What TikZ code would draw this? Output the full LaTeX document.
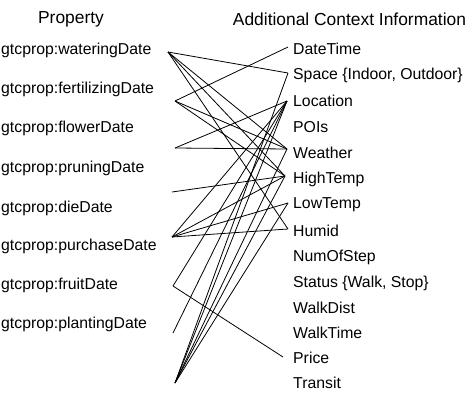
\documentclass[tikz,border=0pt]{standalone}
\usepackage{fontspec}
\setmainfont{Liberation Sans}
\begin{document}
\begin{tikzpicture}[x=1pt,y=-1pt,
  lbl/.style={font=\fontsize{15.8}{18}\selectfont, inner sep=0pt, anchor=west},
  hdr/.style={font=\fontsize{17.4}{20}\selectfont, inner sep=0pt},
  link/.style={line width=0.8pt}]
\useasboundingbox (0,0) rectangle (469,394);

% column headings
\node[hdr] (hprop) at (71,19) {Property};
\node[hdr] (hctx) at (349.5,19) {Additional Context Information};

% property labels
\node[lbl] (pw)  at (1,50)  {gtcprop:wateringDate};
\node[lbl] (pf)  at (1,89)  {gtcprop:fertilizingDate};
\node[lbl] (pfl) at (1,128) {gtcprop:flowerDate};
\node[lbl] (ppr) at (1,168) {gtcprop:pruningDate};
\node[lbl] (pd)  at (1,208) {gtcprop:dieDate};
\node[lbl] (ppu) at (1,246) {gtcprop:purchaseDate};
\node[lbl] (pfr) at (1,285) {gtcprop:fruitDate};
\node[lbl] (ppl) at (1,324) {gtcprop:plantingDate};

% context labels
\node[lbl] (cdt) at (293,49)  {DateTime};
\node[lbl] (csp) at (293,75)  {Space \{Indoor, Outdoor\}};
\node[lbl] (clo) at (293,101) {Location};
\node[lbl] (cpo) at (293,127) {POIs};
\node[lbl] (cwe) at (293,153) {Weather};
\node[lbl] (cht) at (293,179) {HighTemp};
\node[lbl] (clt) at (293,205) {LowTemp};
\node[lbl] (chu) at (293,231) {Humid};
\node[lbl] (cns) at (293,257) {NumOfStep};
\node[lbl] (cst) at (293,283) {Status \{Walk, Stop\}};
\node[lbl] (cwd) at (293,308) {WalkDist};
\node[lbl] (cwt) at (293,333) {WalkTime};
\node[lbl] (cpr) at (293,358) {Price};
\node[lbl] (ctr) at (293,383) {Transit};

% line ends on the property side
\coordinate (aw)  at (168,52);
\coordinate (af)  at (175,101);
\coordinate (afl) at (175,148);
\coordinate (apr) at (172,192);
\coordinate (apu) at (172,237);
\coordinate (afr) at (173,286);
\coordinate (apl) at (173,333);
\coordinate (abt) at (175,383);

% line ends on the context side
\coordinate (bdt) at (288,47);
\coordinate (bsp) at (288,73);
\coordinate (blo) at (287,101);
\coordinate (bwe) at (287,149);
\coordinate (bht) at (285,176);
\coordinate (blt) at (288,203);
\coordinate (bhu) at (288,229);
\coordinate (bpr) at (283,357);

% links
\draw[link] (aw) -- (bsp);
\draw[link] (aw) -- (bwe);
\draw[link] (aw) -- (bht);
\draw[link] (aw) -- (bhu);
\draw[link] (af) -- (bdt);
\draw[link] (af) -- (bwe);
\draw[link] (af) -- (bht);
\draw[link] (afl) -- (blo);
\draw[link] (afl) -- (bwe);
\draw[link] (apr) -- (bht);
\draw[link] (apu) -- (blo);
\draw[link] (apu) -- (bht);
\draw[link] (apu) -- (blt);
\draw[link] (apu) -- (bhu);
\draw[link] (afr) -- (blo);
\draw[link] (afr) -- (bpr);
\draw[link] (apl) -- (blo);
\draw[link] (abt) -- (bsp);
\draw[link] (abt) -- (blo);
\draw[link] (abt) -- (bwe);
\draw[link] (abt) -- (bht);
\draw[link] (abt) -- (blt);
\end{tikzpicture}
\end{document}
